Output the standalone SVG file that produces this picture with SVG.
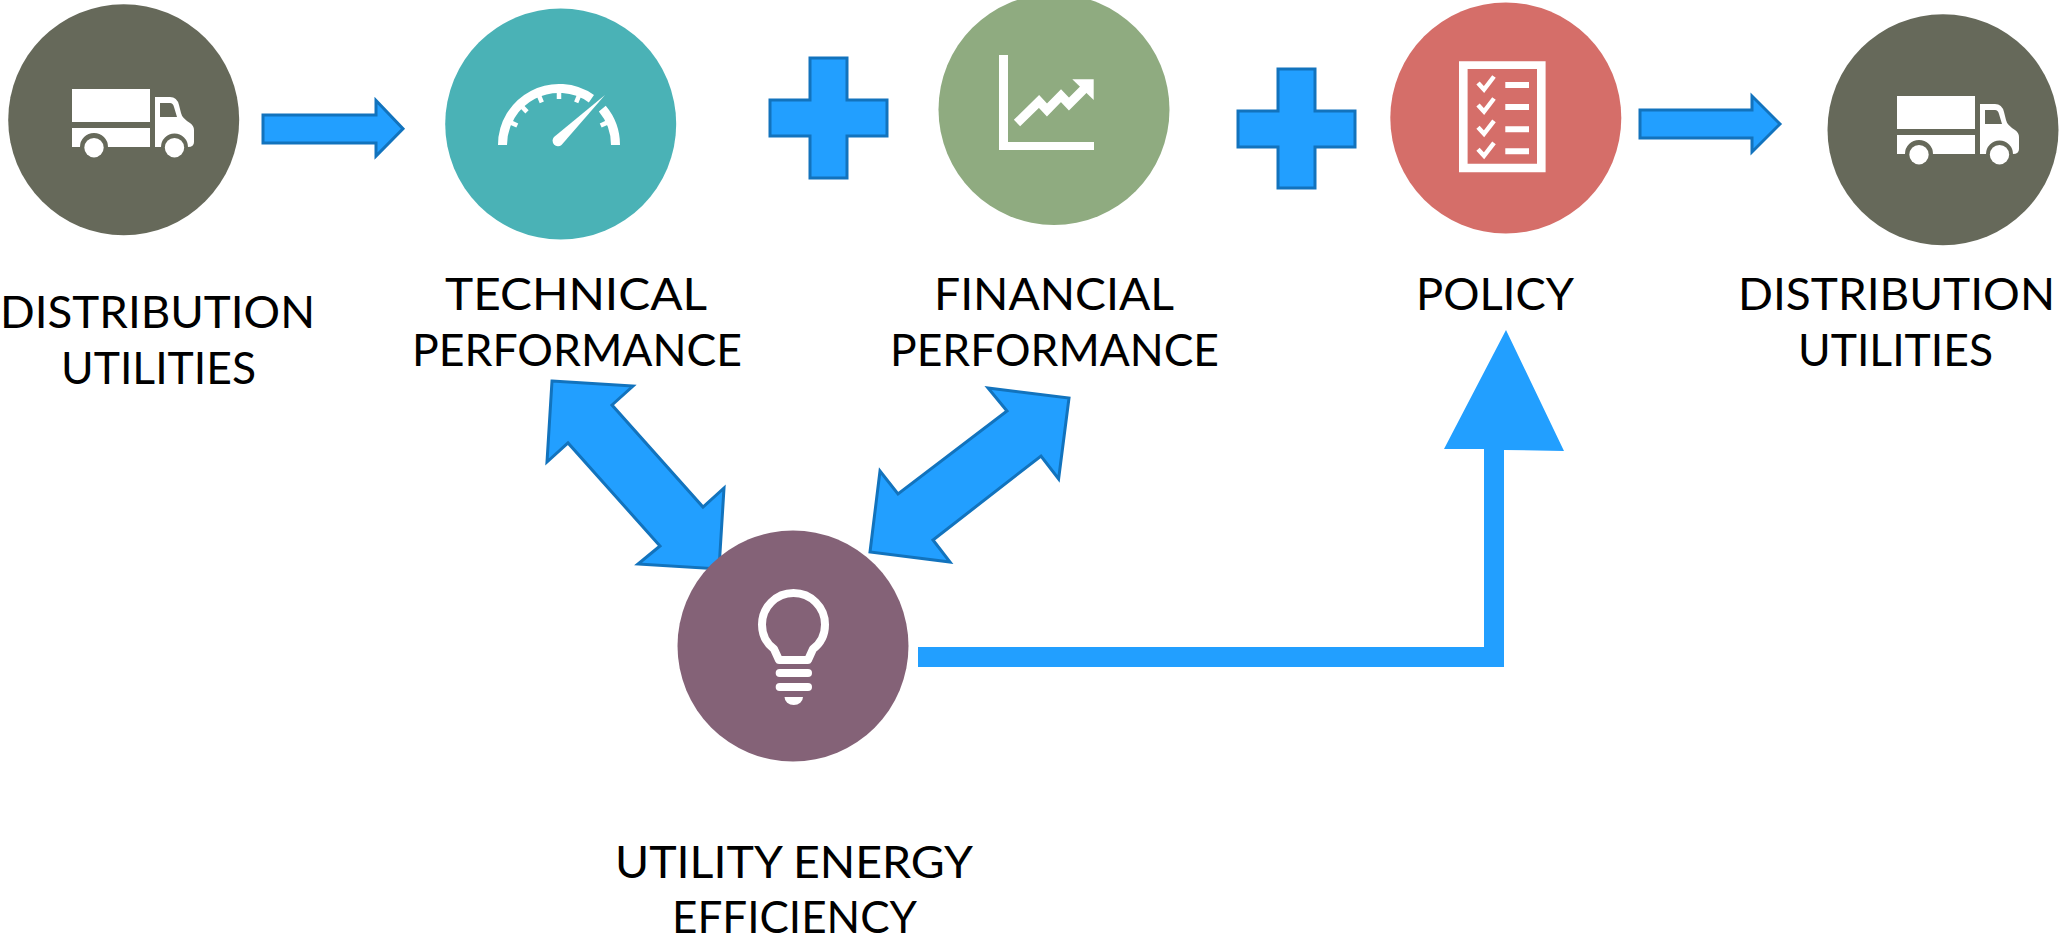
<svg xmlns="http://www.w3.org/2000/svg" xmlns:xlink="http://www.w3.org/1999/xlink" width="2060" height="937" viewBox="0 0 2060 937">
<style>
.lbl{font-family:"Lato","Liberation Sans",sans-serif;font-size:45px;fill:#000}
.blk{fill:#229fff;stroke:#1273bd;stroke-width:3;stroke-linejoin:miter}
.ico{fill:#fff}
.icl{fill:none;stroke:#fff}
</style>
<defs>
<g id="truck">
<rect class="ico" x="72" y="89" width="78" height="33"/>
<path class="ico" d="M72,128H150V147H108A14,14 0 0 0 80,147H72Z"/>
<circle class="ico" cx="94" cy="147.7" r="9.7"/>
<path class="ico" fill-rule="evenodd" d="M155,97H170Q177,97 179,105L181,113Q182,118 190,123Q194,126 194,130V142Q194,147 188,147A13.5,13.5 0 0 0 161,147H155ZM160,103V117H177L174,107Q173,103 170,103Z"/>
<circle class="ico" cx="174.5" cy="147.7" r="9.7"/>
</g>
</defs>
<rect width="2060" height="937" fill="#fff"/>
<g id="connectors">
<path class="blk" d="M263,115H376V100.5L403,128.7L376,156V143H263Z"/>
<path class="blk" d="M1640,110H1752V96L1780,124L1752,152V138H1640Z"/>
<path class="blk" d="M552,381L633,386L612,405L703,507L724,488L719,569L638,564L660,546L568,443L547,462Z"/>
<path class="blk" d="M988,388L1069,398L1058.6,479L1041,456L933,540L950,562L870,552L880,471L898,494L1007,411Z"/>
<path d="M918,647H1484V449L1444,449L1506,330L1564,451L1504,450V667H918Z" fill="#229fff"/>
</g>
<g id="plus-1"><path class="blk" d="M810,58H847V100H887V136H847V178H810V136H770V100H810Z"/></g>
<g id="plus-2"><path class="blk" d="M1278,69H1315V111H1355V147H1315V188H1278V147H1238V111H1278Z"/></g>
<g id="node-distribution-left">
<circle cx="123.7" cy="119.7" r="115.5" fill="#66695a"/>
<use href="#truck"/>
<text class="lbl" x="0" y="328" textLength="315" lengthAdjust="spacingAndGlyphs">DISTRIBUTION</text>
<text class="lbl" x="61" y="384" textLength="195" lengthAdjust="spacingAndGlyphs">UTILITIES</text>
</g>
<g id="node-technical">
<circle cx="560.7" cy="124" r="115.5" fill="#4ab2b6"/>
<path class="icl" stroke-width="9" d="M502.5,145A56.5,56.5 0 0 1 591.4,98.7M602.3,108.7A56.5,56.5 0 0 1 615.5,145"/>
<path class="icl" stroke-width="4.5" d="M559,92V99M539.1,95.9L541.8,102.4M578.9,95.9L576.2,102.4M522.2,106.9L527,111.9M511,122.6L517.3,125.5M607,122.6L600.7,125.5"/>
<path class="ico" d="M605,95L561.5,145A5.5,5.5 0 0 1 554,137Z"/>
<text class="lbl" x="445" y="310" textLength="262" lengthAdjust="spacingAndGlyphs">TECHNICAL</text>
<text class="lbl" x="412" y="366" textLength="330" lengthAdjust="spacingAndGlyphs">PERFORMANCE</text>
</g>
<g id="node-financial">
<circle cx="1054" cy="109.5" r="115.5" fill="#8fab80"/>
<path class="ico" d="M999,55H1008V142H1094V150H999Z"/>
<path class="icl" stroke-width="9" d="M1017,123L1039,101.5L1047,110L1061,95.7L1069,104L1086,87"/>
<path class="ico" d="M1072.3,79.3H1093.7V100Z"/>
<text class="lbl" x="934" y="310" textLength="240" lengthAdjust="spacingAndGlyphs">FINANCIAL</text>
<text class="lbl" x="890" y="366" textLength="329" lengthAdjust="spacingAndGlyphs">PERFORMANCE</text>
</g>
<g id="node-policy">
<circle cx="1505.8" cy="118" r="115.5" fill="#d56e69"/>
<path class="ico" fill-rule="evenodd" d="M1459,61.3H1545.6V172.3H1459ZM1467.6,69V163.7H1537V69Z"/>
<path class="ico" d="M1505.3,82H1529V88H1505.3ZM1505.3,104H1529V110H1505.3ZM1505.3,126.300H1529V132.300H1505.3ZM1505.3,148.300H1529V154.300H1505.3Z"/>
<path class="icl" stroke-width="4.500" d="M1478,83L1484,89.500L1494,76.500M1478,105L1484,111.500L1494,98.500M1478,127.300L1484,133.800L1494,120.800M1478,149.300L1484,155.800L1494,142.800"/>
<text class="lbl" x="1416" y="310" textLength="158" lengthAdjust="spacingAndGlyphs">POLICY</text>
</g>
<g id="node-distribution-right">
<circle cx="1943" cy="129.700" r="115.500" fill="#66695a"/>
<use href="#truck" transform="translate(1825,7)"/>
<text class="lbl" x="1738" y="310" textLength="317" lengthAdjust="spacingAndGlyphs">DISTRIBUTION</text>
<text class="lbl" x="1798" y="366" textLength="195" lengthAdjust="spacingAndGlyphs">UTILITIES</text>
</g>
<g id="node-efficiency">
<circle cx="793" cy="646" r="115.500" fill="#846277"/>
<path class="icl" stroke-width="8" stroke-linejoin="round" d="M779,660L774,649Q762,640 762,624.500A31.500,31.500 0 0 1 825,624.500Q825,640 813,649L808,660Z"/>
<rect class="ico" x="775.700" y="669" width="36.300" height="8" rx="4"/>
<rect class="ico" x="775.700" y="683" width="36.300" height="8" rx="4"/>
<path class="ico" d="M784.500,697H803A9.250,8 0 0 1 784.500,697Z"/>
<text class="lbl" x="615" y="878" textLength="358" lengthAdjust="spacingAndGlyphs">UTILITY ENERGY</text>
<text class="lbl" x="672" y="933" textLength="245" lengthAdjust="spacingAndGlyphs">EFFICIENCY</text>
</g>
</svg>
